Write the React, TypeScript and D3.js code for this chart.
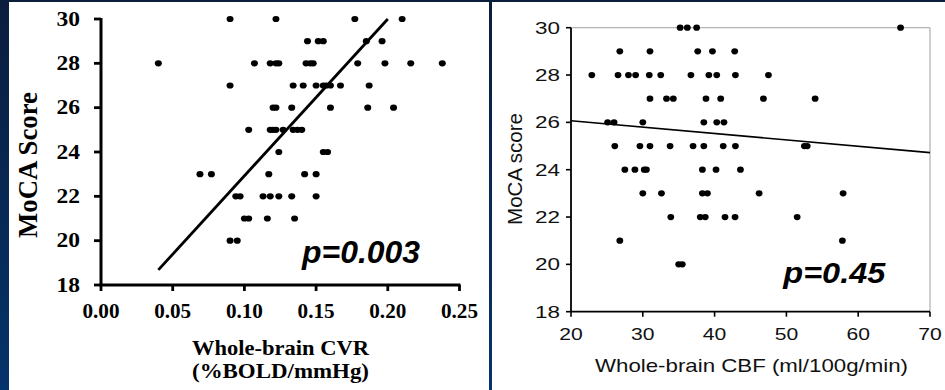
import * as d3 from 'd3'

// MoCA score rows (left panel): CVR values per point, and matching scores
const cvrValues = [
  0.09, 0.122, 0.177, 0.21,
  0.144, 0.1515, 0.155, 0.185, 0.196,
  0.04, 0.107, 0.118, 0.122, 0.124, 0.143, 0.146, 0.148, 0.179, 0.198, 0.216, 0.238,
  0.09, 0.134, 0.141, 0.15, 0.155, 0.157, 0.16, 0.167, 0.187,
  0.12, 0.122, 0.133, 0.16, 0.186, 0.204,
  0.103, 0.118, 0.12, 0.122, 0.127, 0.134, 0.137, 0.14,
  0.124, 0.155, 0.158,
  0.069, 0.077, 0.117, 0.142, 0.15,
  0.094, 0.097, 0.113, 0.118, 0.124, 0.133, 0.15,
  0.1, 0.103, 0.116, 0.135,
  0.09, 0.095,
]
const cvrScores = [
  30, 30, 30, 30,
  29, 29, 29, 29, 29,
  28, 28, 28, 28, 28, 28, 28, 28, 28, 28, 28, 28,
  27, 27, 27, 27, 27, 27, 27, 27, 27,
  26, 26, 26, 26, 26, 26,
  25, 25, 25, 25, 25, 25, 25, 25,
  24, 24, 24,
  23, 23, 23, 23, 23,
  22, 22, 22, 22, 22, 22, 22,
  21, 21, 21, 21,
  20, 20,
]
const cvrFitX = [0.04, 0.2]
const cvrFitY = [18.68, 30]
const cvrTicks = ['0.00', '0.05', '0.10', '0.15', '0.20', '0.25']

// right panel: CBF values and scores
const cbfValues = [
  35.2, 36.2, 37.5, 65.9,
  26.8, 31.0, 37.65, 39.7, 42.8,
  22.9, 26.55, 28.0, 29.0, 30.9, 32.5, 36.7, 39.2, 40.3, 42.9, 47.5,
  31.0, 33.3, 34.25, 38.8, 40.85, 46.8, 54.0,
  25.1, 26.0, 30.0, 38.5, 40.3, 41.3,
  26.1, 29.6, 31.0, 33.8, 37.0, 38.5, 41.2, 42.9, 52.5, 52.9,
  27.5, 28.9, 30.2, 30.5, 38.3, 40.2, 43.6,
  30.0, 32.6, 38.3, 39.0, 46.2, 57.9,
  33.9, 38.0, 38.7, 41.45, 42.85, 51.5,
  26.8, 57.8,
  35.0, 35.5,
]
const cbfScores = [
  30, 30, 30, 30,
  29, 29, 29, 29, 29,
  28, 28, 28, 28, 28, 28, 28, 28, 28, 28, 28,
  27, 27, 27, 27, 27, 27, 27,
  26, 26, 26, 26, 26, 26,
  25, 25, 25, 25, 25, 25, 25, 25, 25, 25,
  24, 24, 24, 24, 24, 24, 24,
  23, 23, 23, 23, 23, 23,
  22, 22, 22, 22, 22, 22,
  21, 21,
  20, 20,
]
const cbfFitX = [20, 70]
const cbfFitY = [26.07, 24.72]
const cbfTicks = [20, 30, 40, 50, 60, 70]
const scoreTicks = [18, 20, 22, 24, 26, 28, 30]

const serif = '"Liberation Serif", "Times New Roman", serif'
const sans = '"Liberation Sans", Arial, sans-serif'

export default function App() {
  const width = 945
  const height = 390

  // Left panel scales
  const xL = d3.scaleLinear().domain([0, 0.25]).range([101, 459.5])
  const yL = d3.scaleLinear().domain([18, 30]).range([285, 19])
  // Right panel scales
  const xR = d3.scaleLinear().domain([20, 70]).range([571, 930])
  const yR = d3.scaleLinear().domain([18, 30]).range([311.7, 27.7])

  const fitL = d3
    .line<number>()
    .x((d) => xL(d))
    .y((_, i) => yL(cvrFitY[i]))(cvrFitX)
  const fitR = d3
    .line<number>()
    .x((d) => xR(d))
    .y((_, i) => yR(cbfFitY[i]))(cbfFitX)

  return (
    <svg
      width={width}
      height={height}
      style={{ position: 'absolute', left: 0, top: 0, display: 'block' }}
    >
      <defs>
        <linearGradient id="bg" x1="0" y1="0" x2="0" y2="1">
          <stop offset="0%" stopColor="#0b1d3d" />
          <stop offset="100%" stopColor="#05336b" />
        </linearGradient>
      </defs>
      <rect width={width} height={height} fill="url(#bg)" />
      <rect x={9} y={2} width={480} height={388} fill="#ffffff" />
      <rect x={492} y={2} width={453} height={388} fill="#ffffff" />

      {/* Left panel */}
      <g>
        <line x1={101} x2={101} y1={yL(30) - 1} y2={yL(18)} stroke="#000" strokeWidth={3} />
        <line x1={99.5} x2={xL(0.25) + 1} y1={yL(18)} y2={yL(18)} stroke="#000" strokeWidth={3} />
        {scoreTicks.map((t) => (
          <g key={'ly' + t}>
            <line x1={94} x2={101} y1={yL(t)} y2={yL(t)} stroke="#000" strokeWidth={2.8} />
            <text
              x={80}
              y={yL(t) + 6.8}
              textAnchor="end"
              fontFamily={serif}
              fontWeight="bold"
              fontSize={20}
              textLength={23.5}
              lengthAdjust="spacingAndGlyphs"
            >
              {t}
            </text>
          </g>
        ))}
        {cvrTicks.map((t) => (
          <g key={'lx' + t}>
            <line x1={xL(+t)} x2={xL(+t)} y1={yL(18)} y2={yL(18) + 6} stroke="#000" strokeWidth={2.8} />
            <text
              x={xL(+t)}
              y={318}
              textAnchor="middle"
              fontFamily={serif}
              fontWeight="bold"
              fontSize={21}
              textLength={37}
              lengthAdjust="spacingAndGlyphs"
            >
              {t}
            </text>
          </g>
        ))}
        {cvrValues.map((v, i) => (
          <ellipse key={'lp' + i} cx={xL(v)} cy={yL(cvrScores[i])} rx={3.5} ry={3.1} fill="#000" />
        ))}
        <path d={fitL || ''} stroke="#000" strokeWidth={2.8} fill="none" />
        <text
          x={280.5}
          y={354.5}
          textAnchor="middle"
          fontFamily={serif}
          fontWeight="bold"
          fontSize={22}
          textLength={177}
          lengthAdjust="spacingAndGlyphs"
        >
          Whole-brain CVR
        </text>
        <text
          x={280.5}
          y={378}
          textAnchor="middle"
          fontFamily={serif}
          fontWeight="bold"
          fontSize={22}
          textLength={177}
          lengthAdjust="spacingAndGlyphs"
        >
          (%BOLD/mmHg)
        </text>
        <text
          transform="translate(37,165) rotate(-90)"
          textAnchor="middle"
          fontFamily={serif}
          fontWeight="bold"
          fontSize={27}
          textLength={146}
          lengthAdjust="spacingAndGlyphs"
        >
          MoCA Score
        </text>
        <text
          x={302}
          y={263}
          fontFamily={sans}
          fontWeight="bold"
          fontStyle="italic"
          fontSize={32}
          textLength={118}
          lengthAdjust="spacingAndGlyphs"
        >
          p=0.003
        </text>
      </g>

      {/* Right panel */}
      <g>
        <line x1={xR(20)} x2={xR(70)} y1={yR(30)} y2={yR(30)} stroke="#b4b4b4" strokeWidth={1.3} />
        <line x1={xR(70)} x2={xR(70)} y1={yR(30)} y2={yR(18)} stroke="#b4b4b4" strokeWidth={1.3} />
        <line x1={xR(20)} x2={xR(20)} y1={yR(30)} y2={yR(18)} stroke="#000" strokeWidth={1.8} />
        <line x1={xR(20)} x2={xR(70)} y1={yR(18)} y2={yR(18)} stroke="#000" strokeWidth={1.8} />
        {scoreTicks.map((t) => (
          <g key={'ry' + t}>
            <line x1={566} x2={571} y1={yR(t)} y2={yR(t)} stroke="#000" strokeWidth={1.6} />
            <text
              x={560}
              y={yR(t) + 6}
              textAnchor="end"
              fontFamily={sans}
              fontSize={17}
              textLength={25}
              lengthAdjust="spacingAndGlyphs"
              fill="#111"
            >
              {t}
            </text>
          </g>
        ))}
        {cbfTicks.map((t) => (
          <g key={'rx' + t}>
            <line x1={xR(t)} x2={xR(t)} y1={yR(18)} y2={yR(18) + 5} stroke="#000" strokeWidth={1.6} />
            <text
              x={xR(t)}
              y={339.5}
              textAnchor="middle"
              fontFamily={sans}
              fontSize={17}
              textLength={23.5}
              lengthAdjust="spacingAndGlyphs"
              fill="#111"
            >
              {t}
            </text>
          </g>
        ))}
        {cbfValues.map((v, i) => (
          <ellipse key={'rp' + i} cx={xR(v)} cy={yR(cbfScores[i])} rx={3.4} ry={3.1} fill="#000" />
        ))}
        <path d={fitR || ''} stroke="#000" strokeWidth={1.6} fill="none" />
        <text
          x={751.5}
          y={371.7}
          textAnchor="middle"
          fontFamily={sans}
          fontSize={18.5}
          textLength={313}
          lengthAdjust="spacingAndGlyphs"
          fill="#111"
        >
          Whole-brain CBF (ml/100g/min)
        </text>
        <text
          transform="translate(521.5,169) rotate(-90)"
          textAnchor="middle"
          fontFamily={sans}
          fontSize={20.5}
          textLength={112}
          lengthAdjust="spacingAndGlyphs"
          fill="#111"
        >
          MoCA score
        </text>
        <text
          x={783.3}
          y={283.3}
          fontFamily={sans}
          fontWeight="bold"
          fontStyle="italic"
          fontSize={30}
          textLength={102}
          lengthAdjust="spacingAndGlyphs"
        >
          p=0.45
        </text>
      </g>
    </svg>
  )
}
